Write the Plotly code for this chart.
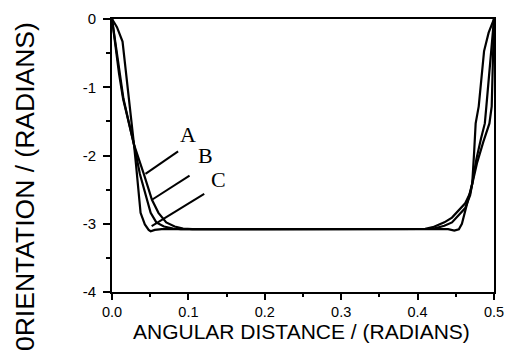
import plotly.graph_objects as go

# ---- data ----
a_x = [0.0, 0.0048, 0.0096, 0.015, 0.0224, 0.0288, 0.0416, 0.0523, 0.0608, 0.071, 0.082, 0.093, 0.105,
       0.2, 0.3, 0.395, 0.41, 0.42, 0.435, 0.445, 0.4623, 0.4688, 0.4715, 0.478, 0.486, 0.494, 0.497, 0.499, 0.5]
a_y = [0.0, -0.40, -0.80, -1.17, -1.53, -1.84, -2.27, -2.65, -2.84, -2.98, -3.04, -3.07, -3.08,
       -3.08, -3.08, -3.08, -3.075, -3.05, -2.98, -2.91, -2.70, -2.55, -2.41, -2.10, -1.80, -1.53, -1.28, -0.47, 0.0]

b_x = [0.0, 0.0045, 0.0092, 0.0145, 0.022, 0.0288, 0.0365, 0.0455, 0.0506, 0.058, 0.068, 0.080, 0.09,
       0.2, 0.3, 0.41, 0.42, 0.435, 0.445, 0.4623, 0.4688, 0.4715, 0.477, 0.483, 0.488, 0.490, 0.496, 0.5]
b_y = [0.0, -0.40, -0.80, -1.17, -1.53, -1.84, -2.27, -2.65, -2.84, -2.98, -3.04, -3.07, -3.08,
       -3.08, -3.08, -3.08, -3.075, -3.03, -2.98, -2.77, -2.58, -2.41, -2.05, -1.75, -1.53, -1.28, -0.47, 0.0]

c_x = [0.0, 0.0065, 0.0138, 0.0186, 0.0238, 0.0266, 0.0288, 0.0314, 0.0374, 0.043, 0.048, 0.0506, 0.056, 0.065,
       0.2, 0.3, 0.44, 0.448, 0.454, 0.458, 0.4623, 0.4688, 0.4715, 0.474, 0.476, 0.480, 0.487, 0.493, 0.5]
c_y = [0.0, -0.12, -0.33, -0.80, -1.28, -1.54, -1.84, -2.13, -2.84, -3.01, -3.09, -3.11, -3.09, -3.08,
       -3.08, -3.08, -3.08, -3.10, -3.08, -3.00, -2.81, -2.55, -2.41, -1.95, -1.53, -1.28, -0.47, -0.20, 0.0]

x_ticks = [0.0, 0.1, 0.2, 0.3, 0.4, 0.5]
x_ticktext = ["0.0", "0.1", "0.2", "0.3", "0.4", "0.5"]
y_ticks = [0, -1, -2, -3, -4]
y_ticktext = ["0", "-1", "-2", "-3", "-4"]

labels = ["A", "B", "C"]
label_x = [0.0993, 0.1228, 0.140]
label_y = [-1.69, -2.00, -2.35]
leader_x0 = [0.0865, 0.1015, 0.1207]
leader_y0 = [-1.939, -2.294, -2.563]
leader_x1 = [0.0438, 0.0523, 0.0519]
leader_y1 = [-2.27, -2.648, -3.035]

x_title = "ANGULAR DISTANCE / (RADIANS)"
y_title = "0RIENTATION / (RADIANS)"

# ---- figure ----
fig = go.Figure()
for xs, ys in [(a_x, a_y), (b_x, b_y), (c_x, c_y)]:
    fig.add_trace(go.Scatter(x=xs, y=ys, mode="lines",
                             line=dict(color="black", width=2.2), showlegend=False,
                             hoverinfo="skip"))

for i, lab in enumerate(labels):
    fig.add_annotation(x=label_x[i], y=label_y[i], text=lab, showarrow=False,
                       xanchor="center", yanchor="middle",
                       font=dict(family="Liberation Serif", size=22, color="black"))
    fig.add_shape(type="line", x0=leader_x0[i], y0=leader_y0[i], x1=leader_x1[i], y1=leader_y1[i],
                  xref="x", yref="y", line=dict(color="black", width=2))

fig.add_annotation(xref="paper", yref="paper", x=0.496, y=-0.145, text=x_title,
                   showarrow=False, xanchor="center", yanchor="middle",
                   font=dict(family="Liberation Sans", size=21, color="black"))
fig.add_annotation(xref="paper", yref="paper", x=-0.2276, y=0.3848, text=y_title,
                   showarrow=False, xanchor="center", yanchor="middle", textangle=-90,
                   font=dict(family="Liberation Sans", size=26.5, color="black"))

fig.update_layout(
    width=514, height=356,
    margin=dict(l=112, r=11, t=10, b=64),
    paper_bgcolor="white", plot_bgcolor="white",
    font=dict(family="Liberation Sans", color="black"),
)
fig.update_xaxes(range=[0, 0.5], tickvals=x_ticks, ticktext=x_ticktext,
                 ticks="outside", ticklen=6, tickwidth=2, tickcolor="black",
                 showline=True, linewidth=2, linecolor="black", mirror=True,
                 showgrid=False, zeroline=False,
                 tickfont=dict(family="Liberation Sans", size=14.5, color="black"),
                 minor=dict(tickvals=[0.05, 0.15, 0.25, 0.35, 0.45], ticks="outside",
                            ticklen=3, tickwidth=1.5, tickcolor="black"))
fig.update_yaxes(range=[-4, 0], tickvals=y_ticks, ticktext=y_ticktext,
                 ticks="outside", ticklen=7, tickwidth=2, tickcolor="black",
                 showline=True, linewidth=2, linecolor="black", mirror=True,
                 showgrid=False, zeroline=False, ticklabelstandoff=4,
                 tickfont=dict(family="Liberation Sans", size=15, color="black"),
                 minor=dict(tickvals=[-0.5, -1.5, -2.5, -3.5], ticks="outside",
                            ticklen=4, tickwidth=1.5, tickcolor="black"))

fig.write_html("out.html")
